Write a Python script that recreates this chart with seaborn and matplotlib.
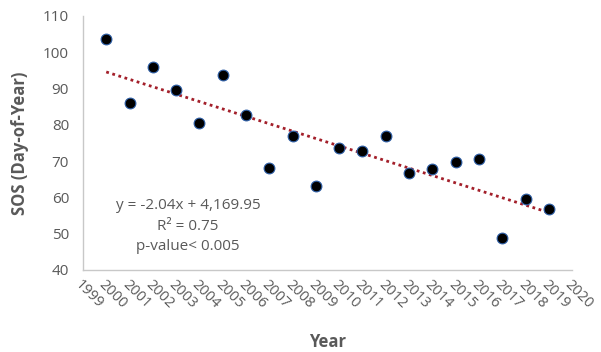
import numpy as np
import pandas as pd
import matplotlib
matplotlib.use("Agg")
import matplotlib.pyplot as plt
import seaborn as sns

# data
years = [2000, 2001, 2002, 2003, 2004, 2005, 2006, 2007, 2008, 2009,
         2010, 2011, 2012, 2013, 2014, 2015, 2016, 2017, 2018, 2019]
sos = [103.7, 86, 95.8, 89.6, 80.6, 93.7, 82.6, 68, 77, 63,
       73.6, 72.8, 77, 66.8, 67.8, 69.8, 70.7, 48.9, 59.6, 56.7]
tick_years = list(range(1999, 2021))
y_ticks = [40, 50, 60, 70, 80, 90, 100, 110]
eq_text = "y = -2.04x + 4,169.95\nR² = 0.75\np-value< 0.005"

df = pd.DataFrame({"Year": years, "SOS": sos})

sns.set_style("white")
plt.rcParams["font.family"] = ["Open Sans", "DejaVu Sans"]

grey = "#595959"
fig = plt.figure(figsize=(6.01, 3.52), dpi=100)
ax = fig.add_axes([0.138, 0.233, 0.814, 0.722])

sns.regplot(data=df, x="Year", y="SOS", ax=ax, ci=None,
            scatter_kws=dict(s=60, color="black", edgecolor="#2E5FA8",
                             linewidths=0.8, alpha=1, zorder=3),
            line_kws=dict(color="#A31F2A", linestyle=(0, (1, 1.3)),
                          linewidth=2, zorder=2))

ax.set_xlim(1999, 2020)
ax.set_ylim(40, 110)
ax.set_xticks(tick_years)
ax.set_xticklabels([str(t) for t in tick_years], rotation=-45,
                   ha="left", va="top", rotation_mode="anchor")
ax.set_yticks(y_ticks)
ax.tick_params(axis="x", length=0, labelsize=10.5, colors=grey, pad=5)
ax.tick_params(axis="y", length=0, labelsize=11, colors=grey, pad=10)

for s in ["top", "right"]:
    ax.spines[s].set_visible(False)
for s in ["left", "bottom"]:
    ax.spines[s].set_color("#C8C8C8")
    ax.spines[s].set_linewidth(1)

ax.set_xlabel("Year", fontsize=12, fontweight="bold", color=grey, va="center")
ax.xaxis.set_label_coords(0.5, -0.285)
ax.set_ylabel("SOS (Day-of-Year)", fontsize=12, fontweight="bold", color=grey,
              labelpad=10)

ax.text(0.215, 0.173, eq_text, transform=ax.transAxes, ha="center", va="center",
        fontsize=11, color=grey, linespacing=1.5)

fig.savefig("out.png", dpi=100)
